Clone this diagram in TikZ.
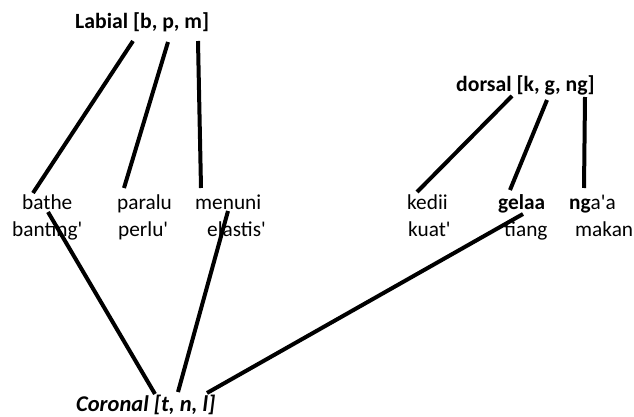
\documentclass[tikz,border=0pt]{standalone}
\usepackage{fontspec}
\newfontfamily\cf{Carlito}
\begin{document}
\begin{tikzpicture}[x=1pt,y=-1pt,
  lbl/.style={inner sep=0pt,anchor=base west,font=\cf\fontsize{21.3}{24}\selectfont},
  head/.style={lbl,font=\cf\bfseries\fontsize{21.7}{24}\selectfont},
  link/.style={line width=4pt,black}]
\useasboundingbox[fill=white] (0,0) rectangle (634,417);
% heads
\node[head] (lab) at (75,29) {Labial [b, p, m]};
\node[head] (dor) at (456,92) {dorsal [k, g, ng]};
\node[head,font=\cf\bfseries\itshape\fontsize{22.5}{24}\selectfont] (cor) at (76,411) {Coronal [t, n, l]};
% words row 1
\node[lbl] (bathe) at (22,209) {bathe};
\node[lbl] (paralu) at (117,209) {paralu};
\node[lbl] (menuni) at (195,209) {menuni};
\node[lbl] (kedii) at (407,209) {kedii};
\node[lbl] (gelaa) at (498,209) {\textbf{gelaa}};
\node[lbl] (ngaa) at (569,209) {\textbf{ng}a'a};
% words row 2
\node[lbl] (banting) at (12,236) {banting'};
\node[lbl] (perlu) at (118,236) {perlu'};
\node[lbl] (elastis) at (207,236) {elastis'};
\node[lbl] (kuat) at (408,236) {kuat'};
\node[lbl] (tiang) at (504,236) {tiang};
\node[lbl] (makan) at (575,236) {makan};
% connector end points
\coordinate (l1) at (133,41);
\coordinate (l2) at (168,42);
\coordinate (l3) at (198,41);
\coordinate (b1) at (33,193);
\coordinate (p1) at (124,188);
\coordinate (m1) at (201,188);
\coordinate (d1) at (512,96);
\coordinate (d2) at (547,100);
\coordinate (d3) at (585,97);
\coordinate (k1) at (417,192);
\coordinate (g1) at (510,190);
\coordinate (n1) at (584,188);
\coordinate (bt) at (48,212);
\coordinate (mt) at (228,211);
\coordinate (gt) at (523,214);
\coordinate (c1) at (155,394);
\coordinate (c2) at (178,392);
\coordinate (c3) at (207,393);
% connectors
\draw[link] (l1) -- (b1);
\draw[link] (l2) -- (p1);
\draw[link] (l3) -- (m1);
\draw[link] (d1) -- (k1);
\draw[link] (d2) -- (g1);
\draw[link] (d3) -- (n1);
\draw[link] (bt) -- (c1);
\draw[link] (mt) -- (c2);
\draw[link] (gt) -- (c3);
\end{tikzpicture}
\end{document}
